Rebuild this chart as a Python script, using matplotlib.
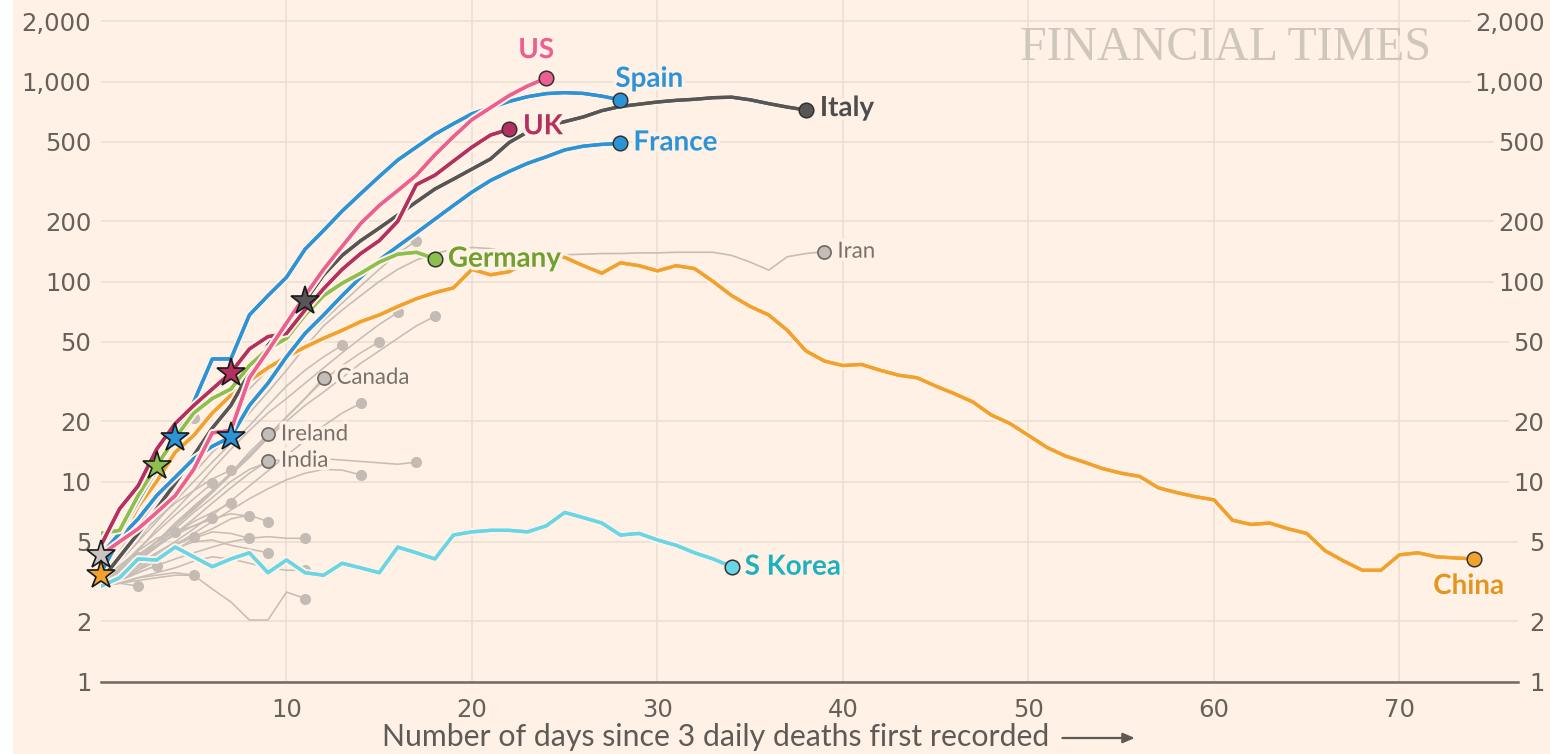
import matplotlib
matplotlib.use("Agg")
import matplotlib.pyplot as plt
import matplotlib.patheffects as pe
from matplotlib.ticker import NullLocator

# 7-day average of daily deaths, one value per day since 3 daily deaths
italy = [3.2, 4.2, 5.5, 7.3, 9.8, 13.5, 18.5, 24, 35, 48, 62, 80, 108, 135, 160, 185, 215, 250, 290, 325,
         365, 410, 495, 560, 600, 630, 665, 715, 750, 770, 790, 805, 815, 830, 835, 810, 775, 745, 720]
spain = [4.3, 5.5, 8, 11.5, 16.5, 25, 41, 41, 68, 85, 105, 145, 180, 225, 275, 335, 405, 470, 545, 615,
         690, 740, 795, 840, 870, 880, 872, 845, 810]
france = [3.5, 5.2, 6.5, 8.5, 10.5, 13, 15, 16.7, 24, 31, 42, 55, 68, 85, 105, 128, 150, 175, 205, 240,
          280, 320, 355, 390, 420, 455, 475, 485, 490]
us = [4.3, 5, 5.8, 7, 8.5, 11.5, 17.5, 18, 33, 45, 62, 85, 115, 150, 195, 240, 285, 340, 430, 530,
      645, 740, 850, 950, 1040]
uk = [4.8, 7.3, 9.5, 14.5, 19.5, 24, 29, 35, 46, 53, 55, 72, 92, 115, 138, 160, 200, 305, 340, 400,
      470, 540, 577]
germany = [5.5, 5.7, 8.5, 12, 16.5, 22, 26, 29, 38, 46, 52, 68, 85, 98, 110, 125, 137, 140, 130]
china = [3.4, 5, 7.5, 10, 14, 17, 22, 27, 32, 37, 42, 47, 52, 57, 63, 68, 75, 82, 88, 93,
         115, 108, 112, 125, 135, 132, 120, 110, 124, 120, 113, 120, 116, 100, 85, 75, 68, 57, 45, 40,
         38, 38.5, 36, 34, 33, 30, 27.5, 25, 21.5, 19.5, 17, 14.8, 13.4, 12.5, 11.6, 11, 10.6, 9.3, 8.8, 8.4,
         8.1, 6.4, 6.1, 6.2, 5.8, 5.5, 4.5, 4, 3.6, 3.6, 4.3, 4.4, 4.2, 4.15, 4.1]
skorea = [3, 3.3, 4.1, 4.05, 4.7, 4.2, 3.75, 4.1, 4.4, 3.5, 4.05, 3.5, 3.4, 3.9, 3.7, 3.5, 4.7, 4.4, 4.1, 5.4,
          5.6, 5.7, 5.7, 5.6, 6.0, 7.0, 6.6, 6.2, 5.4, 5.5, 5.1, 4.8, 4.4, 4.1, 3.75]
iran = [3, 4, 5, 7, 9, 11, 14, 17, 22, 28, 36, 47, 60, 72, 85, 100, 115, 128, 138, 145,
        148, 146, 140, 138, 136, 136, 137, 138, 138, 139, 139, 140, 140, 140, 135, 125, 114, 133, 138, 141]
canada = [3, 3.5, 4.2, 5, 6, 7.2, 8.8, 10.8, 13.2, 16.5, 21, 26, 33]
ireland = [3, 3.5, 4.2, 5, 6.2, 7.5, 9, 11, 14, 17.2]
india = [3, 3.5, 4, 4.7, 5.5, 6.5, 7.8, 9.3, 11, 12.7]

# unlabelled countries (grey background lines)
other_countries = [
    [3.5, 4.5, 6, 8, 10.5, 14, 18, 23, 29, 36, 44, 53, 64, 78, 95, 115, 138, 160],
    [3, 3.6, 4.5, 5.8, 7.2, 9, 11.5, 14.5, 18, 22, 26, 31, 37, 44, 52, 61, 70],
    [3, 3.4, 4, 5, 6, 7.5, 9, 11, 13.5, 16.5, 20, 24, 28, 33, 39, 45, 52, 60, 67],
    [3.3, 4, 5, 6.3, 8, 10, 12.5, 15.5, 19, 24, 30, 36, 42, 48],
    [3, 3.5, 4.2, 5, 6, 7.3, 9, 11, 13.5, 17, 21, 26, 32, 38, 44, 50],
    [3, 3.3, 3.8, 4.4, 5, 5.8, 6.8, 8, 9.5, 11.3, 13.5, 16, 19, 22, 24.6],
    [3, 3.4, 4, 4.8, 5.8, 7, 8.3, 10, 11.5, 12.5, 13, 13.3, 13, 12.8, 12.6, 12.4, 12.2, 12.5],
    [3, 3.3, 3.7, 4.2, 4.8, 5.5, 6.3, 7.2, 8.2, 9.2, 10.2, 11, 11.5, 11.4, 10.8],
    [3, 3.4, 3.8, 4.3, 4.8, 5.3, 5.8, 6.5, 6.8, 6.3],
    [3.2, 3.8, 4.5, 5.2, 5.6, 6, 6.5, 6.9, 6.7],
    [3, 3.2, 3.5, 3.8, 4.1, 4.4, 4.7, 5, 5.2, 5.3, 5.2, 5.2],
    [3, 3.2, 3.6, 4, 4.5, 5.2, 5.6, 5.5, 5.2],
    [3, 3.3, 3.6, 4.2, 4.6, 5, 5.1, 4.8, 4.6, 4.4],
    [3, 3.1, 3.3, 3.5, 3.7, 4, 4.2, 4.1, 3.9, 3.7, 3.6, 3.6],
    [3, 3.1, 3.3, 3.4, 3.5, 3.4, 2.9, 2.5, 2.03, 2.03, 2.8, 2.6],
    [3, 3.5, 4.2, 4.8, 5.4, 6, 6.6],
    [3, 3.6, 4.3, 5, 5.6],
    [3, 3.4, 3.9, 4.4, 4.9, 5.3],
    [3, 3.6, 4.2],
    [3, 3.2, 3.5, 3.8],
    [3, 3.1, 3.2, 3.3, 3.4, 3.4],
    [3.2, 3.1, 3.0],
    [3.5, 4.3, 5.3, 6.5, 7.8, 9, 10.3, 11.4],
    [3, 3.7, 4.6, 5.6, 6.8, 8.2, 9.8],
    [3, 3.5, 4.1, 4.8, 5.5, 6.3, 7, 7.8],
    [4.3, 6, 8.5, 11.5, 15.5, 20.7],
]
grey_star_country = 25  # index in other_countries with a lockdown star on day 0

# day of lockdown (star marker)
lockdown_day = {"Italy": 11, "Spain": 4, "France": 7, "UK": 7, "Germany": 3, "China": 0}

y_ticks = [1, 2, 5, 10, 20, 50, 100, 200, 500, 1000, 2000]
y_tick_labels = ["1", "2", "5", "10", "20", "50", "100", "200", "500", "1,000", "2,000"]
x_ticks = [10, 20, 30, 40, 50, 60, 70]

bg = "#fff1e5"
grid_col = "#e9ddd2"
tick_col = "#66605b"
grey_line = "#c6beb6"
grey_dot = "#c4bcb4"

# name, values, line colour, label colour, label offset (px), ha
highlight = [
    ("China", china, "#f2a22c", "#e3961f", (-5, -27), "center"),
    ("S Korea", skorea, "#69d6e6", "#1cb2bd", (13, 0), "left"),
    ("Italy", italy, "#565656", "#4d4d4d", (14, 2), "left"),
    ("France", france, "#2b93d6", "#2b93d6", (13, 1), "left"),
    ("Spain", spain, "#2b93d6", "#2b93d6", (-5, 21), "left"),
    ("Germany", germany, "#8cbf4c", "#70a02f", (13, 0), "left"),
    ("UK", uk, "#b3305f", "#b3305f", (14, 3), "left"),
    ("US", us, "#ec5f90", "#ec5f90", (-10, 28), "center"),
]
grey_labelled = [("Iran", iran), ("Canada", canada), ("Ireland", ireland), ("India", india)]

fig = plt.figure(figsize=(15.5, 7.54), dpi=100, facecolor=bg)
fig.patches.append(plt.Rectangle((0, 0), 12 / 1550, 1, transform=fig.transFigure,
                                 color="white", zorder=0))
ax = fig.add_axes([101 / 1550, 72.5 / 754, 1417 / 1550, 681.5 / 754])
ax.set_facecolor(bg)
ax.set_yscale("log")
ax.set_xlim(0, 76.39)
ax.set_ylim(1, 2556)
for s in ax.spines.values():
    s.set_visible(False)

ax.set_yticks(y_ticks, y_tick_labels)
ax.yaxis.set_minor_locator(NullLocator())
ax.set_xticks(x_ticks, [str(t) for t in x_ticks])
ax.set_axisbelow(True)
ax.grid(color=grid_col, lw=1.1)
ax.tick_params(length=0, labelsize=17.5, labelcolor=tick_col)
ax.tick_params(axis="y", pad=7)
ax.tick_params(axis="x", pad=12)
ax.axhline(1, color="#6f6a66", lw=1.8, clip_on=False, zorder=3)

# right-hand labels
ax2 = ax.twinx()
ax2.set_yscale("log")
ax2.set_ylim(ax.get_ylim())
ax2.set_yticks(y_ticks, y_tick_labels)
ax2.yaxis.set_minor_locator(NullLocator())
ax2.tick_params(axis="y", length=0, pad=19, labelsize=17.5, labelcolor=tick_col)
for s in ax2.spines.values():
    s.set_visible(False)
for lbl in ax2.get_yticklabels():
    lbl.set_ha("right")
    lbl.set_bbox(dict(facecolor=bg, edgecolor="none", pad=3))

halo_txt = [pe.withStroke(linewidth=5, foreground=bg)]

# grey background countries
for vals in other_countries:
    ax.plot(range(len(vals)), vals, color=grey_line, lw=1.15, zorder=2)
    ax.plot(len(vals) - 1, vals[-1], "o", ms=8, color=grey_dot, mec="none", zorder=2.5)

for name, vals in grey_labelled:
    ax.plot(range(len(vals)), vals, color=grey_line, lw=1.2, zorder=2)
    ax.plot(len(vals) - 1, vals[-1], "o", ms=9.5, mfc="#c3bdb7", mec="#6d6864", mew=1.2, zorder=2.6)
    ax.annotate(name, (len(vals) - 1, vals[-1]), xytext=(13, 0), textcoords="offset pixels",
                ha="left", va="center", fontsize=16, family=["Lato", "DejaVu Sans"],
                color="#77716c", zorder=7, path_effects=halo_txt)

# highlighted countries
for i, (name, vals, col, lcol, off, ha) in enumerate(highlight):
    z = 4 + i * 0.1
    ax.plot(range(len(vals)), vals, color=col, lw=2.4, zorder=z, solid_capstyle="round",
            path_effects=[pe.withStroke(linewidth=5.5, foreground=bg), pe.Normal()])
    ax.plot(len(vals) - 1, vals[-1], "o", ms=10.5, mfc=col, mec="#333333", mew=1.1, zorder=8)
    ax.annotate(name, (len(vals) - 1, vals[-1]), xytext=off, textcoords="offset pixels",
                ha=ha, va="center", fontsize=20, fontweight="bold",
                family=["Lato", "DejaVu Sans"], color=lcol, zorder=9, path_effects=halo_txt)

# lockdown stars
g = other_countries[grey_star_country]
ax.plot(0, g[0], "*", ms=21, mfc="#c9c4bf", mec="#1a1a1a", mew=1.2, zorder=10, clip_on=False)
for name, vals, col, lcol, off, ha in highlight:
    if name in lockdown_day:
        d = lockdown_day[name]
        ax.plot(d, vals[d], "*", ms=21, mfc=col, mec="#1a1a1a", mew=1.2, zorder=10, clip_on=False)

fig.text(1020 / 1550, 1 - 48 / 754, "FINANCIAL TIMES", ha="left", va="center",
         family=["Liberation Serif", "DejaVu Serif"], fontsize=34.5, color="#cfc6bc")

xl = fig.text(716 / 1550, 1 - 737 / 754, "Number of days since 3 daily deaths first recorded",
              ha="center", va="center", fontsize=21.8, family=["Lato", "DejaVu Sans"], color="#5f5a56")
fig.canvas.draw()
bb = xl.get_window_extent()
ymid = (bb.y0 + bb.y1) / 2 - 1
ax.annotate("", xy=(bb.x1 + 88, ymid), xytext=(bb.x1 + 10, ymid),
            xycoords="figure pixels", textcoords="figure pixels",
            arrowprops=dict(arrowstyle="-|>,head_length=0.7,head_width=0.3", color="#5f5a56", lw=1.6))

fig.savefig("out.png", dpi=100, facecolor=bg)
